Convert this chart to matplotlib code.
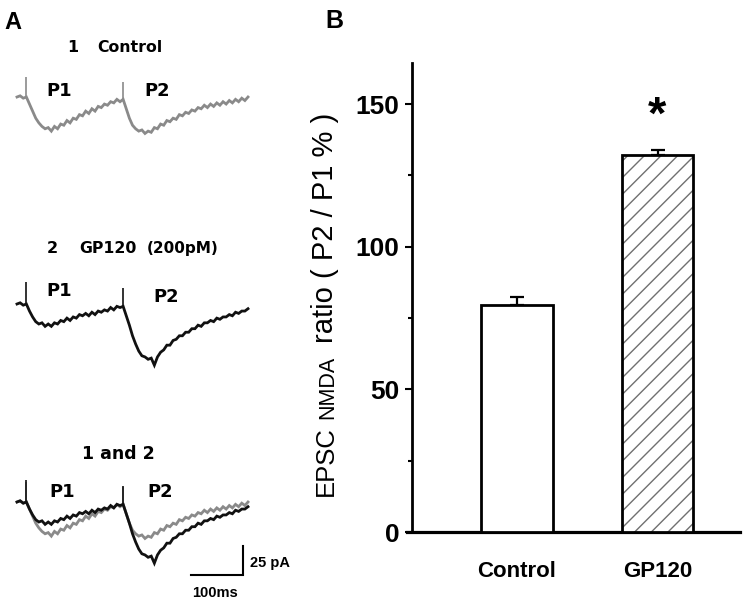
import matplotlib
matplotlib.use('Agg')
import matplotlib.pyplot as plt
import numpy as np

plt.rcParams['font.family'] = ['Liberation Sans', 'DejaVu Sans']
plt.rcParams['hatch.linewidth'] = 1.0

W, H, DPI = 750, 604, 100

# ---------------- data: panel A (sampled current traces, pA) ----------------
sample_ms = 6
stim_idx = [3, 34]
ctrl_pA = [0, 1, -1, 0, -6, -12, -18, -22, -25, -27,
           -26, -29, -25, -27, -23, -24, -20, -22, -18, -19,
           -15, -16, -12, -14, -10, -12, -8, -9, -6, -7,
           -4, -5, -2, -4, -2, -10, -18, -24, -27, -29,
           -28, -31, -29, -30, -26, -27, -23, -24, -20, -21,
           -18, -19, -15, -16, -13, -14, -11, -12, -9, -10,
           -7, -9, -6, -8, -5, -7, -4, -6, -3, -5,
           -2, -4, -1, -3, 0]
gp120_pA = [0, 1, -1, 0, -6, -11, -15, -17, -16, -19,
            -17, -19, -16, -17, -14, -15, -12, -14, -11, -12,
            -9, -10, -8, -10, -7, -9, -6, -7, -5, -6,
            -3, -5, -2, -3, -2, -10, -18, -27, -34, -40,
            -44, -45, -47, -46, -52, -45, -41, -39, -35, -35,
            -31, -30, -27, -27, -24, -24, -21, -21, -18, -19,
            -16, -16, -14, -15, -12, -13, -11, -11, -9, -10,
            -7, -8, -6, -6, -4]
ctrl_artifact_pA = [17, 13]
gp120_artifact_pA = [19, 14]
scale_ms = 100
scale_pA = 25

# ---------------- data: panel B ----------------
groups = ['Control', 'GP120']
ratio_mean = [79.5, 132.3]
ratio_sem = [3.0, 1.7]
yticks_major = [0, 50, 100, 150]
yticks_minor = [25, 75, 125]

GRAY = '#8a8a8a'
BLACK = '#111111'


def fx(px):
    return px / W


def fy(py):
    return 1 - py / H


fig = plt.figure(figsize=(W / DPI, H / DPI), dpi=DPI)

# ---------------- panel A ----------------
ms_per_px = 1.922
pA_per_px = 0.85
t_max = 444
y_lo, y_hi = -70, 25
ax_w_px = t_max / ms_per_px
ax_h_px = (y_hi - y_lo) / pA_per_px


def trace_axes(baseline_py):
    top = baseline_py - y_hi / pA_per_px
    ax = fig.add_axes([fx(17), fy(top + ax_h_px), ax_w_px / W, ax_h_px / H])
    ax.set_xlim(0, t_max)
    ax.set_ylim(y_lo, y_hi)
    ax.axis('off')
    return ax


def draw_trace(ax, vals, arts, color):
    t = np.arange(len(vals)) * sample_ms
    ax.plot(t, vals, color=color, lw=2.0, solid_joinstyle='miter', clip_on=False)
    ts = [t[i] for i in stim_idx]
    base = [vals[i] for i in stim_idx]
    ax.vlines(ts, base, arts, color=color, lw=1.2, clip_on=False)


ax1 = trace_axes(97)
draw_trace(ax1, ctrl_pA, ctrl_artifact_pA, GRAY)
ax2 = trace_axes(304)
draw_trace(ax2, gp120_pA, gp120_artifact_pA, BLACK)
ax3 = trace_axes(502)
draw_trace(ax3, ctrl_pA, ctrl_artifact_pA, GRAY)
draw_trace(ax3, gp120_pA, gp120_artifact_pA, BLACK)

# scale bar
corner_t, corner_pA = 434, -62
ax3.plot([corner_t - scale_ms, corner_t, corner_t],
         [corner_pA, corner_pA, corner_pA + scale_pA],
         color='black', lw=1.5, clip_on=False, solid_joinstyle='miter')

bold_a = dict(family=['DejaVu Sans'], weight='bold', va='baseline', ha='left')
fig.text(fx(4), fy(29), 'A', fontsize=17, weight='heavy', va='baseline', ha='left')
fig.text(fx(67), fy(52), '1', fontsize=11.5, **bold_a)
fig.text(fx(97), fy(52), 'Control', fontsize=11.3, **bold_a)
fig.text(fx(46), fy(96), 'P1', fontsize=13, **bold_a)
fig.text(fx(144), fy(96), 'P2', fontsize=13, **bold_a)

fig.text(fx(47), fy(253), '2', fontsize=11.5, **bold_a)
fig.text(fx(79), fy(253), 'GP120', fontsize=11.3, **bold_a)
fig.text(fx(147), fy(253), '(200pM)', fontsize=11, **bold_a)
fig.text(fx(46), fy(296), 'P1', fontsize=13, **bold_a)
fig.text(fx(153), fy(302), 'P2', fontsize=13, **bold_a)

fig.text(fx(82), fy(459), '1 and 2', fontsize=12.5, **bold_a)
fig.text(fx(49), fy(497), 'P1', fontsize=13, **bold_a)
fig.text(fx(147), fy(497), 'P2', fontsize=13, **bold_a)

fig.text(fx(250), fy(567), '25 pA', fontsize=10.5, weight='bold', va='baseline', ha='left')
fig.text(fx(192), fy(597), '100ms', fontsize=10.5, weight='bold', va='baseline', ha='left')

# ---------------- panel B ----------------
fig.text(fx(325), fy(28), 'B', fontsize=18, weight='heavy', va='baseline', ha='left')

spacing = 140.5
c0 = 517
axb = fig.add_axes([fx(407), fy(532), 333 / W, (532 - 63) / H])
axb.set_xlim(-(c0 - 407) / spacing, (740 - c0) / spacing)
axb.set_ylim(0, 164.4)
for s in ['top', 'right']:
    axb.spines[s].set_visible(False)
axb.spines['left'].set_position(('data', (412 - c0) / spacing))
axb.spines['left'].set_linewidth(2.0)
axb.spines['bottom'].set_linewidth(2.3)

x = np.arange(len(groups))
bw = 0.51
axb.errorbar(x, ratio_mean, yerr=[[0] * len(x), ratio_sem], fmt='none',
             ecolor='black', elinewidth=1.6, capsize=5, capthick=1.6, zorder=2)
axb.bar(x[0], ratio_mean[0], width=bw, color='white', edgecolor='black', lw=2.0, zorder=3)
axb.bar(x[1], ratio_mean[1], width=bw, color='white', edgecolor='#707070', lw=0,
        hatch='//', zorder=3)
axb.bar(x[1], ratio_mean[1], width=bw, fill=False, edgecolor='black', lw=2.0, zorder=4)

star_y = 141.5
axb.text(x[1], star_y, '*', ha='center', va='baseline', fontsize=34, weight='bold')

axb.set_yticks(yticks_major)
axb.set_yticks(yticks_minor, minor=True)
axb.set_yticklabels([str(v) for v in yticks_major], fontsize=19, weight='bold')
axb.tick_params(axis='y', which='major', direction='out', length=5, width=1.5, pad=4)
axb.tick_params(axis='y', which='minor', direction='out', length=3, width=1.5)
axb.set_xticks(x)
axb.set_xticklabels(groups, fontsize=16, weight='bold')
axb.tick_params(axis='x', length=0, pad=21)

# y label in pieces (EPSC + small NMDA + rest)
lab = dict(rotation=90, rotation_mode='anchor', ha='center', va='baseline')
fig.text(fx(333), fy(461), 'EPSC', fontsize=18.5, **lab)
fig.text(fx(333), fy(387), 'NMDA', fontsize=15.5, **lab)
fig.text(fx(333), fy(228), 'ratio ( P2 / P1 % )', fontsize=21, **lab)

fig.savefig('out.png', dpi=DPI)
